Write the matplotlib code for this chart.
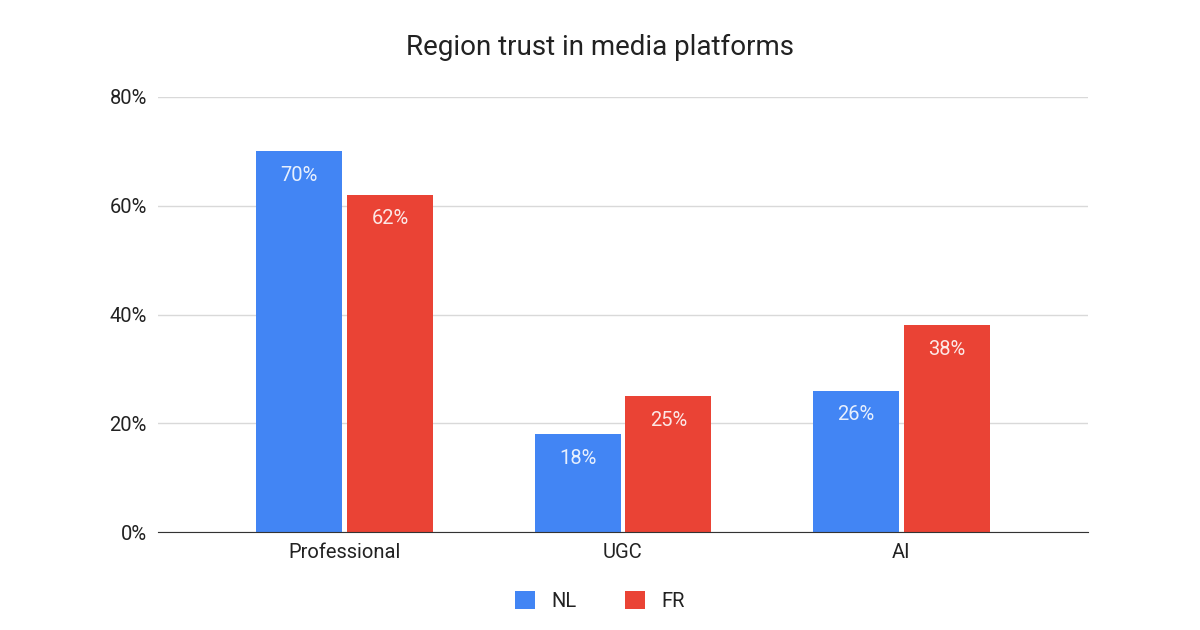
import matplotlib
matplotlib.use("Agg")
import matplotlib.pyplot as plt
import numpy as np

categories = ["Professional", "UGC", "AI"]
nl_values = [70, 18, 26]
fr_values = [62, 25, 38]
series_names = ["NL", "FR"]
y_ticks = [0, 20, 40, 60, 80]

plt.rcParams['font.family'] = ['Roboto', 'DejaVu Sans']

fig = plt.figure(figsize=(12, 6.3), dpi=100)
ax = fig.add_axes([158/1200, 98/630, 930/1200, 435/630])

blue = "#4285F4"
red = "#EA4335"
x = np.arange(len(categories))
w = 0.309
off = 0.163
b1 = ax.bar(x - off, nl_values, w, color=blue, label=series_names[0], zorder=3)
b2 = ax.bar(x + off, fr_values, w, color=red, label=series_names[1], zorder=3)

for bars, vals in ((b1, nl_values), (b2, fr_values)):
    for rect, v in zip(bars, vals):
        ax.annotate(f"{v}%", (rect.get_x() + rect.get_width()/2, v),
                    xytext=(0, -24), textcoords="offset pixels",
                    ha="center", va="center", color="white", alpha=0.88,
                    fontsize=14.5, zorder=4)

ax.set_xlim(-0.67, 2.67)
ax.set_ylim(0, 80)
ax.set_yticks(y_ticks)
ax.set_yticklabels([f"{t}%" for t in y_ticks])
ax.set_xticks(x)
ax.set_xticklabels(categories)
ax.grid(axis="y", color="#d9d9d9", linewidth=1, zorder=0)
for s in ["top", "right", "left"]:
    ax.spines[s].set_visible(False)
ax.spines["bottom"].set_color("#333333")
ax.spines["bottom"].set_zorder(5)
ax.tick_params(axis="both", length=0, labelsize=14.5)
ax.tick_params(axis="y", pad=8)
ax.tick_params(axis="x", pad=8)
for lbl in ax.get_xticklabels() + ax.get_yticklabels():
    lbl.set_color("#222222")

fig.text(0.5, 1 - 47/630, "Region trust in media platforms", ha="center", va="center",
         fontsize=20, color="#222222")

leg = fig.legend(handles=[b1, b2], labels=series_names, loc="center",
                 bbox_to_anchor=(0.5, 1 - 601/630), ncol=2, frameon=False,
                 fontsize=14.5, handlelength=1.0, handleheight=1.0, columnspacing=2.4,
                 handletextpad=0.8)
for t in leg.get_texts():
    t.set_color("#222222")

fig.savefig("out.png", dpi=100, facecolor="white")
